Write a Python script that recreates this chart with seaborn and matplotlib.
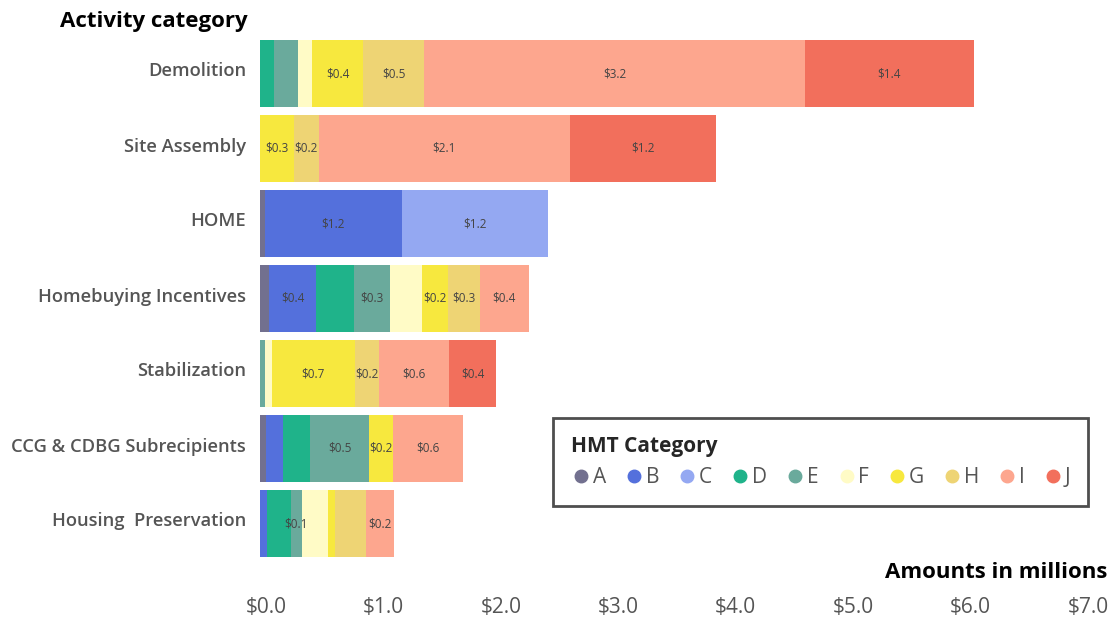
import numpy as np
import pandas as pd
import matplotlib
matplotlib.use("Agg")
import matplotlib.pyplot as plt
import matplotlib.transforms as mtransforms
from matplotlib.lines import Line2D
import seaborn as sns

# ---------------- data ----------------
activities = ["Demolition", "Site Assembly", "HOME", "Homebuying Incentives",
              "Stabilization", "CCG & CDBG Subrecipients", "Housing  Preservation"]
series_names = ["A", "B", "C", "D", "E", "F", "G", "H", "I", "J"]

A = [0.00, 0.00, 0.04, 0.08, 0.00, 0.05, 0.00]
B = [0.00, 0.00, 1.17, 0.40, 0.00, 0.15, 0.06]
C = [0.00, 0.00, 1.24, 0.00, 0.00, 0.00, 0.00]
D = [0.12, 0.00, 0.00, 0.32, 0.00, 0.23, 0.20]
E = [0.20, 0.00, 0.00, 0.31, 0.04, 0.50, 0.10]
F = [0.12, 0.00, 0.00, 0.27, 0.06, 0.00, 0.22]
G = [0.44, 0.29, 0.00, 0.22, 0.71, 0.20, 0.06]
H = [0.52, 0.21, 0.00, 0.27, 0.20, 0.00, 0.26]
I = [3.24, 2.14, 0.00, 0.42, 0.60, 0.60, 0.24]
J = [1.44, 1.24, 0.00, 0.00, 0.40, 0.00, 0.00]

# series whose value label is shown, per activity
labeled = ["GHIJ", "GHIJ", "BC", "BEGHI", "GHIJ", "EGI", "EI"]

x_ticks = [0, 1, 2, 3, 4, 5, 6, 7]
x_tick_labels = [f"${t:.1f}" for t in x_ticks]

y_title = "Activity category"
x_title = "Amounts in millions"
legend_title = "HMT Category"

colors = {
    "A": "#72708f", "B": "#5470dc", "C": "#94a8f2", "D": "#1fb38a",
    "E": "#6aaa9c", "F": "#fffbc6", "G": "#f7e83e", "H": "#eed474",
    "I": "#fda68e", "J": "#f26f5c",
}

# ---------------- style ----------------
sns.set_theme(style="white")
plt.rcParams["font.family"] = ["Open Sans", "DejaVu Sans"]

W, Hh = 1112, 621
fig = plt.figure(figsize=(W / 100, Hh / 100), dpi=100)
fig.patch.set_facecolor("white")
ax_left, ax_right = 260, 1082
ax_top, ax_bot = 36, 561
ax = fig.add_axes([ax_left / W, (Hh - ax_bot) / Hh,
                   (ax_right - ax_left) / W, (ax_bot - ax_top) / Hh])

values = pd.DataFrame({s: v for s, v in zip(series_names,
                                             [A, B, C, D, E, F, G, H, I, J])})
values.insert(0, "activity", activities)
cum = values[series_names].cumsum(axis=1)

# stacked bars: draw cumulative totals from last series to first
for s in reversed(series_names):
    d = pd.DataFrame({"activity": activities, "total": cum[s].values})
    sns.barplot(data=d, x="total", y="activity", order=activities, orient="h",
                color=colors[s], saturation=1, width=0.9, linewidth=0, ax=ax)

# value labels
for i, act in enumerate(activities):
    for s in labeled[i]:
        v = values.loc[i, s]
        center = cum.loc[i, s] - v / 2
        ax.text(center, i, f"${v:.1f}", ha="center", va="center",
                fontsize=8.5, color="#444444")

ax.set_xlim(0, 7)
ax.set_ylim(len(activities) - 0.5, -0.5)
ax.set_xticks(x_ticks)
ax.set_xticklabels(x_tick_labels)
ax.set_xlabel("")
ax.set_ylabel("")
for sp in ax.spines.values():
    sp.set_visible(False)
ax.tick_params(axis="x", length=0, pad=26, labelsize=15, labelcolor="#555555")
ax.tick_params(axis="y", length=0, pad=10, labelsize=13.2, labelcolor="#555555")
for t in ax.get_yticklabels():
    t.set_fontweight("semibold")
    t.set_transform(t.get_transform() + mtransforms.ScaledTranslation(0, 0.04, fig.dpi_scale_trans))
for t in ax.get_xticklabels():
    t.set_transform(t.get_transform() + mtransforms.ScaledTranslation(0.06, 0, fig.dpi_scale_trans))

# titles
fig.text(248 / W, 1 - 22 / Hh, y_title, ha="right", va="center",
         fontsize=16, fontweight="bold", color="black")
fig.text(1107 / W, 1 - 572 / Hh, x_title, ha="right", va="center",
         fontsize=16, fontweight="bold", color="black")

# legend
handles = [Line2D([], [], marker="o", linestyle="", markersize=9,
                  markerfacecolor=colors[s], markeredgecolor=colors[s])
           for s in series_names]
leg = fig.legend(handles, series_names, loc="upper left",
                 bbox_to_anchor=(553 / W, 1 - 418 / Hh), ncol=10,
                 title=legend_title, frameon=True, fancybox=False,
                 edgecolor="#222222", fontsize=15,
                 title_fontproperties={"weight": "bold", "size": 15},
                 handletextpad=0.05, columnspacing=0.86, handlelength=1.0,
                 borderpad=0.85, borderaxespad=0, alignment="left")
leg.get_frame().set_linewidth(2)
for t in leg.get_texts():
    t.set_color("#555555")

fig.savefig("out.png", dpi=100, facecolor="white")
